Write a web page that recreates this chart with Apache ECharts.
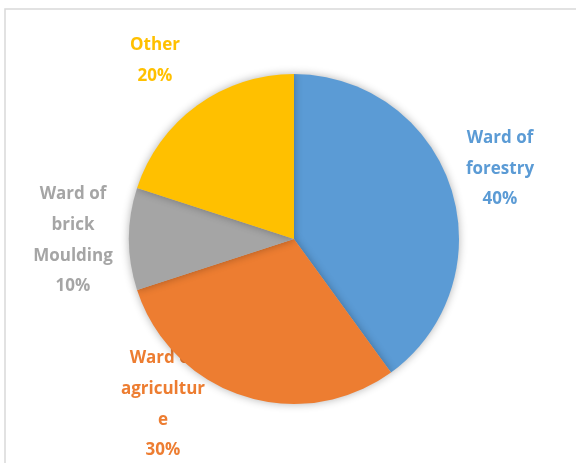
<!DOCTYPE html>
<html>
<head>
<meta charset="utf-8">
<script src="https://cdn.jsdelivr.net/npm/echarts@6/dist/echarts.min.js"></script>
<style>
html,body{margin:0;padding:0;background:#fff;}
#main{width:576px;height:463px;}
</style>
</head>
<body>
<div id="main"></div>
<script>
var categories = ["Ward of forestry", "Ward of agriculture", "Ward of brick Moulding", "Other"];
var values = [40, 30, 10, 20];
var labelLines = [
  ["Ward of", "forestry", "40%"],
  ["Ward of", "agricultur", "e", "30%"],
  ["Ward of", "brick", "Moulding", "10%"],
  ["Other", "20%"]
];
var colors = ["#5B9BD5", "#ED7D31", "#A5A5A5", "#FFC000"];
var labelPos = [[500, 168.5], [163, 404], [73, 240], [155, 60]];

var chart = echarts.init(document.getElementById('main'), null, {renderer: 'canvas'});
var lineH = 28;
var graphics = [{
  type: 'rect', z: 0,
  shape: {x: 5, y: 9, width: 620, height: 520},
  style: {fill: '#fff', stroke: '#d9d9d9', lineWidth: 1.5}
}];
labelLines.forEach(function (lines, i) {
  graphics.push({
    type: 'text', z: 1,
    x: labelPos[i][0], y: labelPos[i][1],
    scaleY: 1.09,
    style: {
      text: lines.join('\n'),
      fill: colors[i],
      font: '700 17px "Open Sans", sans-serif',
      lineHeight: lineH,
      align: 'center',
      verticalAlign: 'middle'
    }
  });
});

chart.setOption({
  animation: false,
  backgroundColor: '#fff',
  color: colors,
  graphic: graphics,
  series: [{
    type: 'pie',
    z: 5,
    center: [294, 239],
    radius: 165,
    startAngle: 90,
    clockwise: true,
    label: {show: false},
    labelLine: {show: false},
    emphasis: {disabled: true},
    itemStyle: {
      borderWidth: 0,
      shadowBlur: 8,
      shadowColor: 'rgba(0,0,0,0.3)'
    },
    data: categories.map(function (c, i) { return {name: c, value: values[i]}; })
  }]
});
</script>
</body>
</html>
